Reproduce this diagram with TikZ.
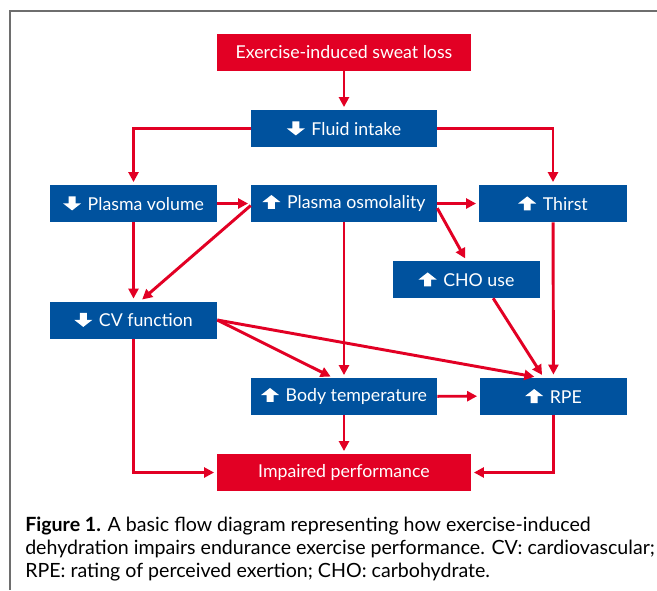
\documentclass[tikz,border=0pt]{standalone}
\usepackage{fontspec}
\setmainfont{Lato}
\usetikzlibrary{arrows.meta,calc}
\definecolor{cred}{RGB}{226,0,36}
\definecolor{cblue}{RGB}{0,82,158}
\definecolor{cframe}{RGB}{110,110,110}
\newcommand{\uparr}{\tikz[baseline=0pt,x=1pt,y=1pt]\fill[white] (-2.6,0) -- (2.6,0) -- (2.6,5.2) -- (6.75,5.2) -- (0,10.5) -- (-6.75,5.2) -- (-2.6,5.2) -- cycle;\hspace{5pt}}
\newcommand{\dnarr}{\tikz[baseline=0pt,x=1pt,y=1pt]\fill[white] (-2.6,10.5) -- (2.6,10.5) -- (2.6,5.3) -- (6.75,5.3) -- (0,0) -- (-6.75,5.3) -- (-2.6,5.3) -- cycle;\hspace{5pt}}
\tikzset{
  box/.style={rectangle, inner sep=0pt, minimum height=27.75pt, minimum width=#1*0.75pt,
    text=white, font=\fontsize{13.3}{15}\selectfont},
  bbox/.style={box=#1, fill=cblue},
  rbox/.style={box=#1, fill=cred},
  conn/.style={draw=cred, line width=2.2pt, -{Triangle[length=7.5pt,width=7.5pt]}, shorten >=2pt},
}
\begin{document}
\begin{tikzpicture}[x=0.75pt,y=-0.75pt]
\useasboundingbox (0,0) rectangle (657,590);
\fill[white] (0,0) rectangle (657,590);
\draw[cframe, line width=1pt] (10,590) -- (10,11) -- (657,11);

\node[rbox=254] (sweat) at (344,52.5) {Exercise-induced sweat loss};
\node[bbox=186] (fluid) at (344,128.5) {\dnarr Fluid intake};
\node[bbox=167] (pv) at (133.5,203.5) {\dnarr Plasma volume};
\node[bbox=186] (po) at (344,203.5) {\uparr Plasma osmolality};
\node[bbox=148] (th) at (553,203.5) {\uparr Thirst};
\node[bbox=147] (cho) at (466.5,279.5) {\uparr CHO use};
\node[bbox=167] (cv) at (133.5,320) {\dnarr CV function};
\node[bbox=186] (bt) at (344,396.5) {\uparr Body temperature};
\node[bbox=147] (rpe) at (553.5,396) {\uparr RPE};
\node[rbox=254] (ip) at (344,472.5) {Impaired performance};

\draw[conn] (sweat) -- (fluid);
\draw[conn] (fluid.west) -| (pv.north);
\draw[conn] (fluid.east) -| (th.north);
\draw[conn] (pv) -- (po);
\draw[conn] (po) -- (th);
\draw[conn] ([yshift=-3.5pt]po.east) -- (cho.north);
\draw[conn] ([yshift=-1.5pt]po.west) -- ([xshift=5pt]cv.north);
\draw[conn] (pv) -- (cv);
\draw[conn] (cv.east) -- ([xshift=-8.25pt]bt.north);
\draw[conn] (po) -- (bt);
\draw[conn] (cv.east) -- ([xshift=-12.4pt]rpe.north);
\draw[conn] ([xshift=20pt]cho.south) -- ([xshift=-7.5pt]rpe.north);
\draw[conn] (th) -- (rpe);
\draw[conn] (bt) -- (rpe);
\draw[conn] (cv.south) |- (ip.west);
\draw[conn] (bt) -- (ip);
\draw[conn] (rpe.south) |- (ip.east);

\node[anchor=base west, align=left, inner sep=0pt, font=\fontsize{14.7}{16.9}\selectfont] (cap) at (25,577)
{\textbf{Figure 1.} A basic flow diagram representing how exercise-induced\\
dehydration impairs endurance exercise performance. CV: cardiovascular;\\
RPE: rating of perceived exertion; CHO: carbohydrate.};
\end{tikzpicture}
\end{document}
